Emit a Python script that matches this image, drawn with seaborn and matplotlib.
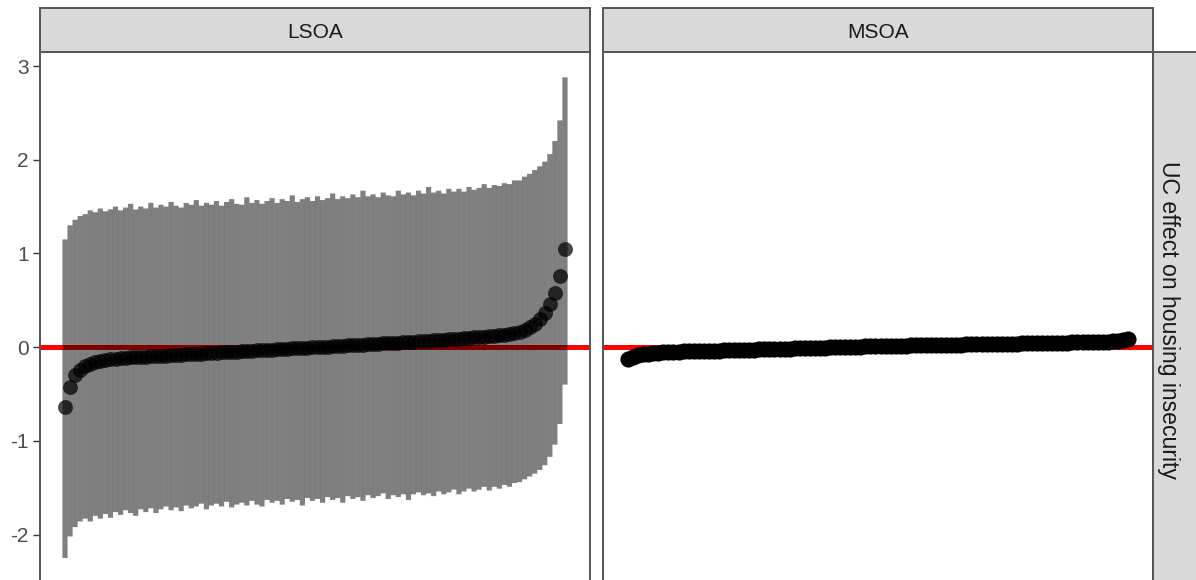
import matplotlib
matplotlib.use("Agg")
import matplotlib.pyplot as plt
from matplotlib import font_manager
import seaborn as sns
import numpy as np
import pandas as pd

# ---------------- data ----------------
panels = ["LSOA", "MSOA"]
row_label = "UC effect on housing insecurity"
y_ticks = [-2, -1, 0, 1, 2, 3]

lsoa_mean = [-0.64, -0.42, -0.30, -0.24, -0.20, -0.175, -0.16, -0.15, -0.14, -0.13,
             -0.122, -0.118, -0.114, -0.110, -0.107, -0.104, -0.101, -0.098, -0.095, -0.092,
             -0.089, -0.086, -0.083, -0.080, -0.077, -0.074, -0.071, -0.068, -0.065, -0.062,
             -0.059, -0.056, -0.053, -0.050, -0.047, -0.044, -0.041, -0.038, -0.035, -0.032,
             -0.029, -0.026, -0.023, -0.020, -0.017, -0.014, -0.011, -0.008, -0.005, -0.002,
             0.001, 0.004, 0.007, 0.010, 0.013, 0.016, 0.019, 0.022, 0.025, 0.028,
             0.031, 0.034, 0.037, 0.040, 0.043, 0.046, 0.049, 0.052, 0.055, 0.058,
             0.061, 0.064, 0.068, 0.072, 0.076, 0.080, 0.084, 0.088, 0.092, 0.096,
             0.100, 0.104, 0.108, 0.113, 0.118, 0.123, 0.129, 0.135, 0.142, 0.150,
             0.16, 0.18, 0.21, 0.25, 0.30, 0.37, 0.46, 0.58, 0.76, 1.05]

lsoa_upper = [1.15, 1.30, 1.36, 1.40, 1.42, 1.46, 1.44, 1.48, 1.45, 1.47,
              1.50, 1.46, 1.49, 1.53, 1.47, 1.50, 1.48, 1.54, 1.49, 1.52,
              1.50, 1.55, 1.51, 1.49, 1.54, 1.52, 1.57, 1.51, 1.54, 1.52,
              1.56, 1.51, 1.55, 1.58, 1.53, 1.52, 1.60, 1.54, 1.57, 1.53,
              1.56, 1.59, 1.54, 1.58, 1.56, 1.62, 1.55, 1.58, 1.60, 1.56,
              1.61, 1.57, 1.59, 1.64, 1.58, 1.61, 1.59, 1.63, 1.60, 1.67,
              1.61, 1.63, 1.60, 1.65, 1.62, 1.61, 1.67, 1.63, 1.65, 1.62,
              1.67, 1.64, 1.71, 1.65, 1.67, 1.64, 1.69, 1.66, 1.69, 1.66,
              1.71, 1.68, 1.70, 1.74, 1.70, 1.73, 1.72, 1.75, 1.74, 1.78,
              1.78, 1.82, 1.85, 1.89, 1.93, 1.98, 2.06, 2.20, 2.42, 2.88]

lsoa_lower = [-2.25, -2.02, -1.92, -1.86, -1.83, -1.86, -1.80, -1.83, -1.78, -1.82,
              -1.76, -1.79, -1.74, -1.77, -1.80, -1.73, -1.76, -1.72, -1.77, -1.73,
              -1.70, -1.74, -1.71, -1.75, -1.69, -1.72, -1.70, -1.67, -1.73, -1.69,
              -1.67, -1.70, -1.65, -1.71, -1.68, -1.66, -1.69, -1.64, -1.68, -1.70,
              -1.63, -1.66, -1.64, -1.68, -1.62, -1.65, -1.63, -1.69, -1.61, -1.64,
              -1.62, -1.66, -1.60, -1.63, -1.61, -1.66, -1.59, -1.62, -1.60, -1.64,
              -1.58, -1.61, -1.59, -1.56, -1.62, -1.58, -1.60, -1.57, -1.63, -1.57,
              -1.55, -1.58, -1.56, -1.59, -1.54, -1.57, -1.55, -1.52, -1.57, -1.54,
              -1.51, -1.54, -1.52, -1.49, -1.53, -1.49, -1.51, -1.47, -1.49, -1.45,
              -1.44, -1.41, -1.38, -1.35, -1.31, -1.26, -1.17, -1.04, -0.82, -0.40]

msoa_mean = [-0.13, -0.10, -0.085, -0.075, -0.068, -0.063, -0.059, -0.056, -0.053, -0.050,
             -0.048, -0.046, -0.045, -0.043, -0.042, -0.040, -0.039, -0.037, -0.036, -0.034,
             -0.033, -0.031, -0.030, -0.028, -0.027, -0.025, -0.024, -0.022, -0.021, -0.019,
             -0.018, -0.016, -0.015, -0.013, -0.012, -0.010, -0.009, -0.007, -0.006, -0.004,
             -0.003, -0.001, 0.000, 0.002, 0.003, 0.005, 0.006, 0.008, 0.009, 0.011,
             0.012, 0.013, 0.014, 0.015, 0.016, 0.017, 0.018, 0.019, 0.020, 0.021,
             0.022, 0.023, 0.024, 0.025, 0.026, 0.027, 0.028, 0.029, 0.030, 0.031,
             0.032, 0.033, 0.034, 0.035, 0.036, 0.037, 0.038, 0.039, 0.040, 0.041,
             0.042, 0.043, 0.044, 0.045, 0.046, 0.047, 0.048, 0.049, 0.050, 0.051,
             0.052, 0.053, 0.054, 0.055, 0.057, 0.059, 0.062, 0.066, 0.072, 0.090]

# ---------------- styling ----------------
sns.set_theme(style="white")
available = {f.name for f in font_manager.fontManager.ttflist}
narrow = "Liberation Sans Narrow" if "Liberation Sans Narrow" in available else None
plt.rcParams["font.family"] = ["Liberation Sans", "DejaVu Sans"]
plt.rcParams["axes.unicode_minus"] = False

if narrow:
    short_font = dict(family=[narrow, "DejaVu Sans"], fontsize=17.5)
else:
    short_font = dict(family=["Liberation Sans", "DejaVu Sans"], fontsize=15)
long_font = dict(family=["Liberation Sans", "DejaVu Sans"], fontsize=16.6)

W, H = 1196, 580
fig = plt.figure(figsize=(W / 100, H / 100), dpi=100)


def fx(px):
    return px / W


def fy(py):
    return (H - py) / H


panel_left = [40, 603]
panel_w = 550
panel_top, panel_bot = 52, 588
strip_top = 8
border_col = "#555555"
strip_fill = "#D9D9D9"
txt_col = "#1A1A1A"
tick_col = "#4D4D4D"

ylim = (-2.57, 3.15)

lsoa = pd.DataFrame({"rank": np.arange(1, len(lsoa_mean) + 1), "mean": lsoa_mean,
                     "lower": lsoa_lower, "upper": lsoa_upper})
msoa = pd.DataFrame({"rank": np.arange(1, len(msoa_mean) + 1), "mean": msoa_mean})

for k, name in enumerate(panels):
    ax = fig.add_axes([fx(panel_left[k]), fy(panel_bot), panel_w / W,
                       (panel_bot - panel_top) / H])
    df = lsoa if name == "LSOA" else msoa
    n = len(df)
    ax.axhline(0, color="#FF0000", lw=3.6, zorder=1)
    if name == "LSOA":
        bars = ax.vlines(df["rank"], df["lower"], df["upper"], color="black",
                         alpha=0.5, lw=3.72, zorder=2)
        bars.set_snap(False)
        sns.scatterplot(data=df, x="rank", y="mean", ax=ax, color="black",
                        alpha=0.72, s=115, linewidth=0, zorder=3, legend=False)
    else:
        sns.scatterplot(data=df, x="rank", y="mean", ax=ax, color="black",
                        alpha=1.0, s=135, linewidth=0, zorder=3, legend=False)
    pad = 0.05 * (n - 1)
    ax.set_xlim(1 - pad, n + pad)
    ax.set_ylim(*ylim)
    ax.set_xticks([])
    ax.set_xlabel("")
    ax.set_ylabel("")
    ax.set_yticks(y_ticks)
    if k == 0:
        ax.set_yticklabels([str(t) for t in y_ticks], color=tick_col, **short_font)
        ax.tick_params(axis="y", left=True, length=5, width=1.0, color="#333333",
                       pad=3)
    else:
        ax.set_yticklabels([])
        ax.tick_params(axis="y", left=False)
    for sp in ax.spines.values():
        sp.set_visible(True)
        sp.set_color(border_col)
        sp.set_linewidth(1.4)
    ax.set_facecolor("white")

    # top strip
    sax = fig.add_axes([fx(panel_left[k]), fy(panel_top), panel_w / W,
                        (panel_top - strip_top) / H])
    sax.set_xlim(0, 1)
    sax.set_ylim(0, 1)
    sax.set_xticks([])
    sax.set_yticks([])
    sax.set_facecolor(strip_fill)
    for sp in sax.spines.values():
        sp.set_color(border_col)
        sp.set_linewidth(1.4)
    sax.text(0.5, 0.45, name, ha="center", va="center", color=txt_col, **short_font)

# right strip
rax = fig.add_axes([fx(1153), fy(panel_bot), 44 / W, (panel_bot - panel_top) / H])
rax.set_xlim(0, 1)
rax.set_ylim(0, 1)
rax.set_xticks([])
rax.set_yticks([])
rax.set_facecolor(strip_fill)
for sp in rax.spines.values():
    sp.set_color(border_col)
    sp.set_linewidth(1.4)
rax.text(0.36, 0.5, row_label, ha="center", va="center", rotation=-90,
         color=txt_col, **long_font)

fig.savefig("out.png", dpi=100, facecolor="white")
